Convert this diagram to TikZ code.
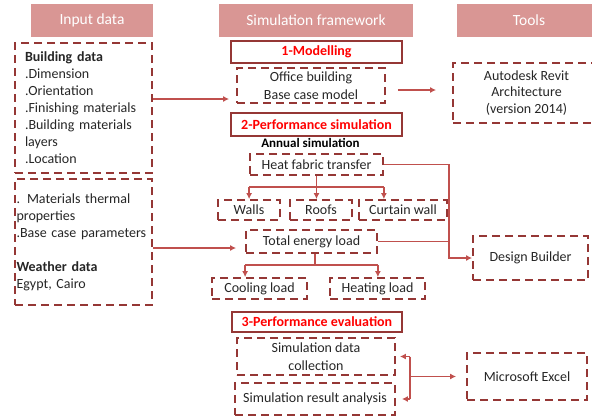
\documentclass[tikz,border=0pt]{standalone}
\usepackage{fontspec}
\setmainfont{Carlito}
\usetikzlibrary{arrows.meta,calc}
\definecolor{dred}{RGB}{149,55,53}
\definecolor{lred}{RGB}{192,80,77}
\definecolor{hdr}{RGB}{217,150,148}
\definecolor{txt}{RGB}{38,38,38}
\hyphenpenalty=10000
\begin{document}
\begin{tikzpicture}[x=1pt,y=-1pt,
  hdrbox/.style={fill=hdr, text=white, inner sep=0, font=\fontsize{15.5}{18}\selectfont, minimum height=33pt},
  dbox/.style={draw=dred, line width=1.8pt, dash pattern=on 8pt off 5pt, inner sep=0, text=txt, font=\fontsize{14}{17}\selectfont, align=center},
  sbox/.style={draw=dred, line width=1.2pt, inner sep=0, text=red, font=\bfseries\fontsize{14}{17}\selectfont},
  link/.style={draw=lred, line width=1.5pt},
  arr/.style={link, -{Latex[length=6pt,width=6pt]}}]
\useasboundingbox (0,0) rectangle (592,416);
\clip (0,0) rectangle (592,416);
% headers
\node[hdrbox, minimum width=122pt] (hin) at (92,20.5) {Input data};
\node[hdrbox, minimum width=194pt] (hsim) at (316,20.5) {Simulation framework};
\node[hdrbox, minimum width=144pt] (htools) at (529,20.5) {Tools};
% input column
\node[dbox, minimum width=137pt, minimum height=130pt, text width=117pt, align=left] (in1) at (83.5,108)
  {\textbf{Building data}\\.Dimension\\.Orientation\\.Finishing materials\\.Building materials\\layers\\.Location};
\node[dbox, minimum width=137pt, minimum height=126pt, text width=134pt, align=left] (in2) at (83.5,242)
  {. Materials thermal\\properties\\.Base case parameters\\[17pt]\textbf{Weather data}\\Egypt, Cairo};
% middle column
\node[sbox, minimum width=171pt, minimum height=22pt] (m1) at (316.5,52) {1-Modelling};
\node[dbox, minimum width=148pt, minimum height=35pt, font=\fontsize{14}{18}\selectfont] (office) at (311,85.5) {Office building\\Base case model};
\node[sbox, minimum width=171pt, minimum height=23pt] (m2) at (316.5,124.5) {2-Performance simulation};
\node[font=\bfseries\fontsize{13}{15}\selectfont, text=black, inner sep=0] (annual) at (310.5,143) {Annual simulation};
\node[dbox, minimum width=133pt, minimum height=21pt] (heat) at (316.5,164.5) {Heat fabric transfer};
\node[dbox, minimum width=62pt, minimum height=20pt] (walls) at (249,210) {Walls};
\node[dbox, minimum width=62pt, minimum height=20pt] (roofs) at (321,210) {Roofs};
\node[dbox, minimum width=88pt, minimum height=20pt] (curtain) at (403,210) {Curtain wall};
\node[dbox, minimum width=131pt, minimum height=23pt] (total) at (311.5,241.5) {Total energy load};
\node[dbox, minimum width=95pt, minimum height=21pt] (cooling) at (259.5,288.5) {Cooling load};
\node[dbox, minimum width=95pt, minimum height=21pt] (heating) at (377.5,288.5) {Heating load};
\node[sbox, minimum width=170pt, minimum height=20pt] (m3) at (317,322) {3-Performance evaluation};
\node[dbox, minimum width=158pt, minimum height=37pt, font=\fontsize{14}{18}\selectfont] (sdc) at (316,356.5) {Simulation data\\collection};
\node[dbox, minimum width=160pt, minimum height=32pt] (sra) at (315,399) {Simulation result analysis};
% tools column
\node[dbox, minimum width=147pt, minimum height=60pt, font=\fontsize{14}{16.5}\selectfont] (revit) at (526.5,93) {Autodesk Revit\\Architecture\\(version 2014)};
\node[dbox, minimum width=115pt, minimum height=44pt] (design) at (530.5,258) {Design Builder};
\node[dbox, minimum width=120pt, minimum height=47pt] (excel) at (527,376.5) {Microsoft Excel};
% connectors
\coordinate (a1) at (0,99);
\draw[arr, shorten >=7pt] (in1.east |- a1) -- (office.west |- a1);
\coordinate (a2) at (0,90);
\draw[arr, shorten <=12pt, shorten >=16pt] (office.east |- a2) -- (revit.west |- a2);
\coordinate (hb) at (316.5,187);
\draw[link] (heat.south) -- (hb);
\draw[link] (hb -| heat.west) -- (hb -| heat.east);
\draw[arr] (hb -| heat.west) -- (heat.west |- walls.north);
\draw[arr] (hb) -- (hb |- roofs.north);
\draw[arr] (hb -| heat.east) -- (heat.east |- curtain.north);
\coordinate (j) at (449,258);
\draw[arr] (heat.east) -| (j) -- (design.west);
\draw[link] (total.east) -- (total.east -| j);
\coordinate (a5) at (0,248);
\draw[arr, shorten >=9pt] (in2.east |- a5) -- (total.west |- a5);
\coordinate (tb) at (315,265);
\draw[link] (total.south -| tb) -- (tb);
\draw[link] (tb -| total.west) -- (tb -| total.east);
\draw[arr] (tb -| total.west) -- (total.west |- cooling.north);
\draw[arr] (tb -| total.east) -- (total.east |- heating.north);
\coordinate (v1) at (410,356.5);
\coordinate (v2) at (410,399);
\draw[link] (v1) -- (v2);
\draw[arr, shorten >=4pt] (v1) -- (sdc.east);
\draw[arr, shorten >=6pt] (v2) -- (sra.east);
\draw[arr, shorten >=10pt] (v1 |- excel.west) -- (excel.west);
\end{tikzpicture}
\end{document}
